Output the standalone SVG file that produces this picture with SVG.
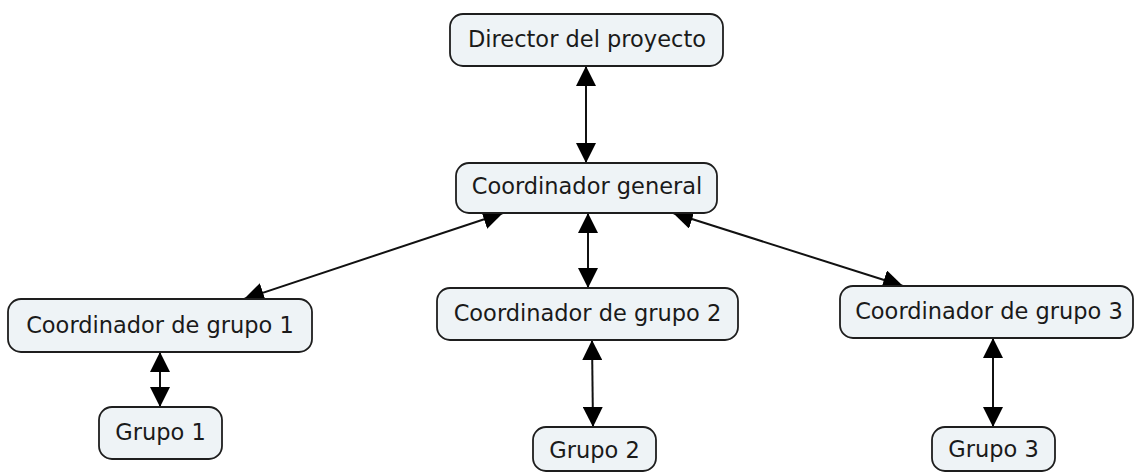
<svg xmlns="http://www.w3.org/2000/svg" width="1135" height="473" viewBox="0 0 1135 473">
<style>
.box{fill:#eef3f6;stroke:#1e1e1e;stroke-width:1.8}
.lbl{font-family:"DejaVu Sans",Verdana,sans-serif;font-size:22.5px;fill:#1a1a1a;text-anchor:middle}
.con{stroke:#111;stroke-width:2;fill:none;marker-start:url(#ah);marker-end:url(#ah)}
</style>
<defs>
<marker id="ah" viewBox="0 0 20 20" refX="20" refY="10" markerWidth="20" markerHeight="20" markerUnits="userSpaceOnUse" orient="auto-start-reverse">
<path d="M0,0 L20,10 L0,20 z" fill="#000"/>
</marker>
</defs>
<rect width="1135" height="473" fill="#fff"/>
<g id="connectors">
<line class="con" x1="586" y1="66" x2="586" y2="163"/>
<line class="con" x1="588" y1="213" x2="588" y2="288"/>
<line class="con" x1="503" y1="213" x2="244" y2="299"/>
<line class="con" x1="673" y1="213" x2="903" y2="286"/>
<line class="con" x1="160" y1="352" x2="160" y2="407"/>
<line class="con" x1="592" y1="340" x2="593" y2="427"/>
<line class="con" x1="993" y1="338" x2="993" y2="427"/>
</g>
<g id="director"><rect class="box" x="450" y="14" width="273" height="52" rx="13"/><text class="lbl" x="587" y="47">Director del proyecto</text></g>
<g id="coord-general"><rect class="box" x="456" y="163" width="261" height="50" rx="13"/><text class="lbl" x="587" y="194">Coordinador general</text></g>
<g id="coord-g1"><rect class="box" x="8" y="299" width="304" height="53" rx="13"/><text class="lbl" x="160" y="333">Coordinador de grupo 1</text></g>
<g id="coord-g2"><rect class="box" x="437" y="288" width="301" height="52" rx="13"/><text class="lbl" x="587.5" y="321">Coordinador de grupo 2</text></g>
<g id="coord-g3"><rect class="box" x="840" y="286" width="293" height="52" rx="13"/><text class="lbl" x="989" y="319">Coordinador de grupo 3</text></g>
<g id="grupo1"><rect class="box" x="99" y="407" width="123" height="52" rx="13"/><text class="lbl" x="160.5" y="440">Grupo 1</text></g>
<g id="grupo2"><rect class="box" x="533" y="427" width="123" height="44" rx="13"/><text class="lbl" x="594.5" y="458">Grupo 2</text></g>
<g id="grupo3"><rect class="box" x="932" y="427" width="123" height="44" rx="13"/><text class="lbl" x="993.5" y="457">Grupo 3</text></g>
</svg>
